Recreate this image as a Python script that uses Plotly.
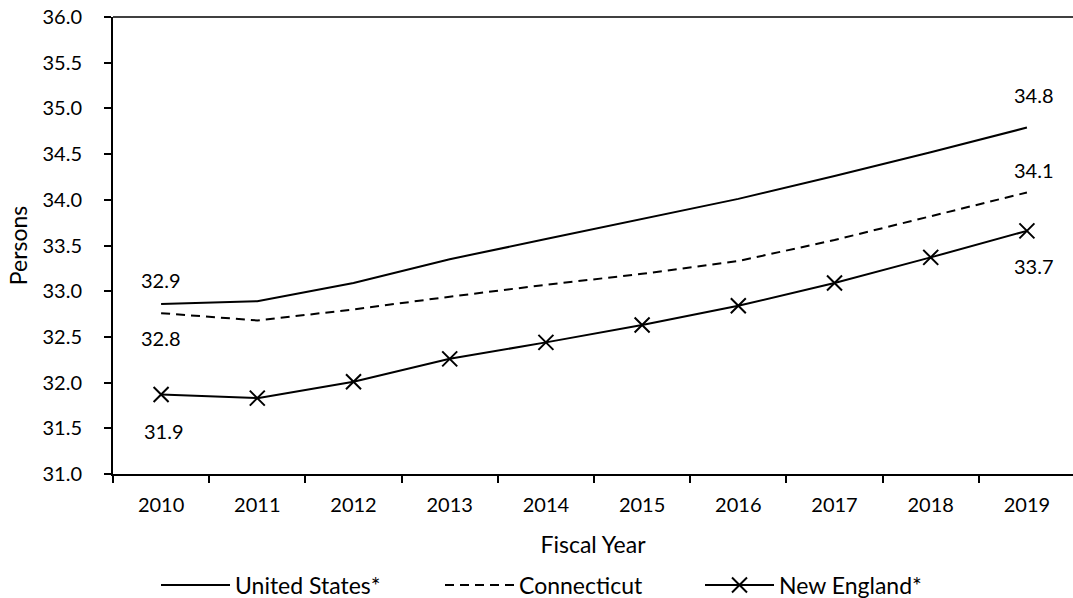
import plotly.graph_objects as go

# Fiscal years on the category axis
years = ["2010", "2011", "2012", "2013", "2014", "2015", "2016", "2017", "2018", "2019"]

# Average household size (persons) by region
united_states = [32.86, 32.89, 33.09, 33.35, 33.57, 33.79, 34.01, 34.26, 34.52, 34.79]
connecticut = [32.76, 32.68, 32.80, 32.94, 33.07, 33.19, 33.33, 33.56, 33.82, 34.08]
new_england = [31.87, 31.83, 32.01, 32.26, 32.44, 32.63, 32.84, 33.09, 33.37, 33.66]

y_ticks = [31.0, 31.5, 32.0, 32.5, 33.0, 33.5, 34.0, 34.5, 35.0, 35.5, 36.0]

FONT = "Lato, 'Open Sans', sans-serif"
INK = "#000000"
NUM_SIZE = 20
WORD_SIZE = 23

fig = go.Figure()

fig.add_trace(go.Scatter(
    x=years, y=united_states, name="United States*", mode="lines",
    line=dict(color=INK, width=2), legendwidth=200,
))
fig.add_trace(go.Scatter(
    x=years, y=connecticut, name="Connecticut", mode="lines",
    line=dict(color=INK, width=2, dash="9px,6px"), legendwidth=176,
))
fig.add_trace(go.Scatter(
    x=years, y=new_england, name="New England*", mode="lines+markers",
    line=dict(color=INK, width=2),
    marker=dict(symbol="x-thin", size=15, line=dict(color=INK, width=2)),
    legendwidth=140,
))

# End-point value labels: (series, index, xshift, yshift).
# Category positions are given by index so numeric-looking names are not misread.
label_specs = [
    (united_states, 0, 0, 24),
    (connecticut, 0, 0, -25),
    (new_england, 0, 3, -37),
    (united_states, 9, 7, 33),
    (connecticut, 9, 7, 22),
    (new_england, 9, 7, -35),
]
for series, i, dx, dy in label_specs:
    fig.add_annotation(
        x=i, y=series[i], xref="x", yref="y", text=f"{series[i]:.1f}",
        showarrow=False, xshift=dx, yshift=dy,
        font=dict(family=FONT, size=NUM_SIZE, color=INK),
    )

# Top border of the plot frame
fig.add_shape(
    type="line", xref="paper", yref="paper", x0=0, x1=1, y0=1, y1=1,
    line=dict(color=INK, width=1.5),
)

fig.update_layout(
    width=1073, height=598,
    margin=dict(l=113, r=0, t=16.5, b=124, autoexpand=False),
    paper_bgcolor="white", plot_bgcolor="white",
    font=dict(family=FONT, size=NUM_SIZE, color=INK),
    showlegend=True,
    legend=dict(
        orientation="h", x=0.0448, xanchor="left",
        yref="container", y=1 - 585 / 598, yanchor="middle",
        itemwidth=69,
        font=dict(family=FONT, size=WORD_SIZE, color=INK),
        bgcolor="rgba(0,0,0,0)",
    ),
    xaxis=dict(
        type="category", range=[-0.5, 9.479],
        showline=True, linecolor=INK, linewidth=2,
        ticks="outside", tickson="boundaries", ticklen=7, tickwidth=2, tickcolor=INK,
        ticklabelstandoff=12,
        showgrid=False, zeroline=False,
        title=dict(text="Fiscal Year", standoff=22, font=dict(family=FONT, size=WORD_SIZE, color=INK)),
        tickfont=dict(family=FONT, size=NUM_SIZE, color=INK),
    ),
    yaxis=dict(
        range=[31.0, 36.0], tickvals=y_ticks, ticktext=[f"{v:.1f}" for v in y_ticks],
        showline=True, linecolor=INK, linewidth=2,
        ticks="outside", ticklen=7, tickwidth=2, tickcolor=INK,
        ticklabelstandoff=18,
        showgrid=False, zeroline=False,
        title=dict(text="Persons", standoff=8, font=dict(family=FONT, size=WORD_SIZE, color=INK)),
        tickfont=dict(family=FONT, size=NUM_SIZE, color=INK),
    ),
)

fig.write_html("out.html")
